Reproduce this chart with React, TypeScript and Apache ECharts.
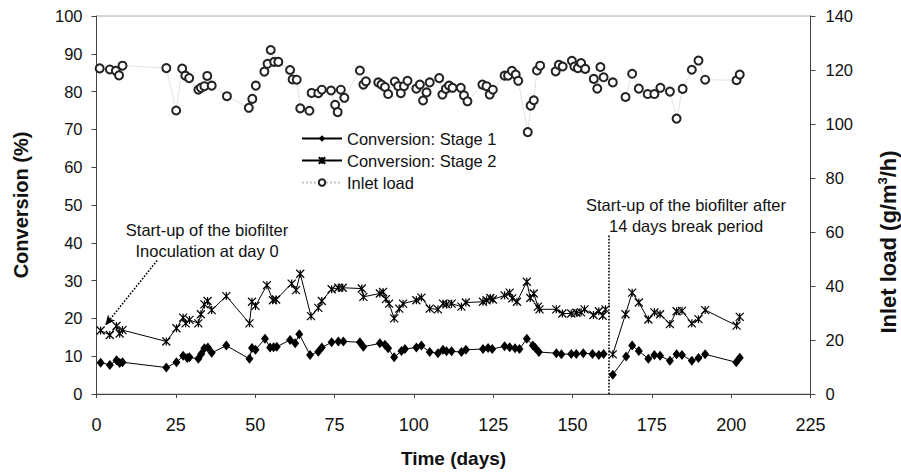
import React, { useEffect, useRef } from 'react';
import * as echarts from 'echarts';

const stage1Days = [1.3,4.2,6.3,7.3,8.2,22,25.2,27.3,28.6,29.3,32.1,33,34,35.1,36.3,40.9,48.2,49,50.1,53.1,54.7,55.8,56.8,61,62.6,63.9,67.3,69.9,71,74.1,76.2,77.8,83,84.1,89.3,90.9,91.9,93.8,96.1,97.2,100.8,102.4,105,107.6,109.2,110.3,111.9,115,116.4,121.8,123.4,124.7,128.6,130.2,131.9,133.3,135.6,137.5,138.3,139.4,144.9,146.5,149.6,151.2,153.4,156.3,158.3,159.8,161.4,162.7,166.9,168.8,170.9,173.9,175.8,177.6,180.7,182.8,184.5,187.6,189.7,191.8,201.6,202.7];
const stage1Values = [8.3,7.7,8.9,8.2,8.4,7.0,8.4,10.1,9.5,9.7,9.3,10.6,12.1,12.3,10.9,12.8,9.3,12.2,11.7,14.6,12.3,12.4,12.5,14.3,13.4,15.8,10.3,11.2,12.3,13.7,13.9,13.9,13.7,12.5,13.4,13,12.1,9.7,11.4,11.9,12.3,12.8,11.1,10.8,11.7,11.3,11.3,11.1,11.7,11.9,12.2,11.9,12.6,12.4,12.1,11.9,14.6,12.8,12.2,11.1,10.8,10.5,10.6,10.6,10.8,10.6,10.3,10.6,null,5.1,9.9,12.8,11.4,9.3,10.3,10.1,8.8,10.5,10.3,8.8,9.5,10.5,8.4,9.6];

const stage2Days = [1.3,4.2,6.3,7.3,8.2,22,25.2,27.3,28.1,29.3,32.1,32.9,34,35,36.3,40.9,48.2,49,50.1,53.7,55.6,56.6,61.5,62.9,64.2,67.6,69.9,71,74.1,76.2,77.6,83.6,84.1,89.3,90.3,91.2,92.2,93.8,95.4,96.6,100.8,102.4,105,107.6,109.2,110.3,111.9,115,116.4,121.8,122.9,124.1,124.9,128.6,130.2,131,132.5,135.6,136.7,137.8,139.1,139.6,144.9,146.8,149.6,151.2,152.7,153.8,156.6,158.3,159.5,160.4,161.4,162.7,166.7,168.8,170.9,173.9,175.8,177.6,180.7,182.8,184.5,187.6,189.7,191.8,201.7,202.7];
const stage2Values = [16.8,15.6,18.0,16.0,16.9,13.9,17.4,20.2,18.7,19.6,18.7,21.1,23.7,24.6,22.2,25.9,18.7,24.4,23.3,28.8,24.8,25,29.2,27.5,31.8,20.6,22.8,24.6,27.7,28.1,28.1,27.9,25.7,26.6,27,25.1,23.9,20,22.6,23.9,24.8,25.5,22.6,22.4,23.9,23.7,23.9,23.1,24.2,24.4,24.8,25.4,25,26.1,26.8,25.3,24.4,29.7,25.4,26.6,23.1,22.4,22.4,21.3,21.3,21.5,21.6,22.4,20.9,21.9,20.7,22.4,null,10.5,21.1,26.8,24.2,19.7,21.6,21.1,18.5,21.9,22,18.7,19.8,22.2,18.1,20.4];

const loadDays = [1.0,4.2,6.1,7.1,8.2,22,25.1,27.0,28.0,29.2,32.1,32.9,34.0,34.9,36.3,41.1,48.0,49.1,50.2,52.9,53.9,54.9,56.0,57.3,61.0,61.8,63.1,64.2,67.1,67.8,69.9,71.0,73.9,75.2,76.0,77.0,78.1,83.0,84.1,84.9,88.8,89.8,90.9,91.9,94.0,95.1,95.9,96.9,98.0,100.8,101.9,102.9,104.0,105.0,108.0,109.0,110.1,111.1,112.2,114.8,115.8,116.9,121.6,122.9,123.9,124.9,128.6,129.7,130.9,132.1,132.9,135.9,136.8,137.8,138.8,139.8,144.7,145.7,146.9,149.8,150.6,151.7,152.7,154.0,156.7,157.8,158.8,159.8,162.7,166.7,168.8,170.9,173.7,175.8,177.7,180.7,182.8,184.7,187.6,189.7,191.8,201.7,202.7];
const loadValues = [120.6,120.2,119.7,118.0,121.6,120.7,105.0,120.5,117.9,117.0,112.7,113.4,114.0,117.8,114.2,110.3,106.0,109.3,114.2,119.4,122.3,127.4,123.0,123.0,120.0,116.5,116.4,105.8,104.9,111.5,111.4,112.7,112.4,107.1,104.4,112.7,109.7,119.8,114.6,115.8,115.4,114.6,113.7,111.1,115.7,114.0,111.4,114.0,116.0,113.1,114.6,108.7,111.7,115.4,117.0,110.9,113.0,114.2,113.4,113.4,110.6,108.4,114.6,114.0,110.9,112.7,117.9,117.9,119.7,118.3,116.0,97.0,106.8,108.8,119.8,121.6,119.5,121.9,121.3,123.4,121.3,120.7,122.6,120.4,116.7,113.1,121.1,117.3,115.4,110.0,118.6,113.1,111.1,111.1,113.4,112.0,102.0,113.0,120.1,123.5,116.4,116.2,118.3];

const xTicks = { min: 0, max: 225, interval: 25 };
const leftTicks = { min: 0, max: 100, interval: 10 };
const rightTicks = { min: 0, max: 140, interval: 20 };

const breakDay = 161.4;
const breakLineTop = 42;
const arrowFrom = [19.1, 35.3];
const arrowTo = [2.8, 18.2];

const seriesNames = ['Conversion: Stage 1', 'Conversion: Stage 2', 'Inlet load'];
const note1 = ['Start-up of the biofilter', 'Inoculation at day 0'];
const note2 = ['Start-up of the biofilter after', '14 days break period'];

const FONT = '"Liberation Sans", Arial, sans-serif';
const STAR = 'path://M0,0L10,10M10,0L0,10M5,0L5,10';

function pairs(days: number[], vals: (number | null)[]) {
  return days.map((d, i) => [d, vals[i] === null ? '-' : vals[i]]);
}

export default function App() {
  const ref = useRef<HTMLDivElement>(null);
  useEffect(() => {
    document.body.style.margin = '0';
    const chart = echarts.init(ref.current!, null, { renderer: 'svg' });
    const axisLine = { show: true, lineStyle: { color: '#444', width: 1 } };
    const tickLabel = { color: '#111', fontFamily: FONT, fontSize: 16.5 };
    chart.setOption({
      animation: false,
      backgroundColor: '#fff',
      grid: { left: 96.5, right: 90.5, top: 16, bottom: 77, show: true, borderColor: '#aaa', borderWidth: 1 },
      legend: {
        orient: 'vertical',
        left: 296,
        top: 125,
        itemWidth: 40,
        itemHeight: 8,
        itemGap: 5,
        data: seriesNames,
        textStyle: { color: '#111', fontFamily: FONT, fontSize: 16.5 },
      },
      xAxis: {
        type: 'value',
        ...xTicks,
        axisLine,
        axisTick: { show: true, length: 4, lineStyle: { color: '#444' } },
        axisLabel: { ...tickLabel, fontSize: 18, margin: 22 },
        splitLine: { show: false },
        name: 'Time (days)',
        nameLocation: 'middle',
        nameGap: 55,
        nameTextStyle: { color: '#111', fontFamily: FONT, fontSize: 19, fontWeight: 'bold' },
      },
      yAxis: [
        {
          type: 'value',
          position: 'left',
          ...leftTicks,
          axisLine,
          axisTick: { show: true, length: 5, lineStyle: { color: '#444' } },
          axisLabel: { ...tickLabel, margin: 14 },
          splitLine: { show: false },
          name: 'Conversion (%)',
          nameLocation: 'middle',
          nameRotate: 90,
          nameGap: 66,
          nameTextStyle: { color: '#111', fontFamily: FONT, fontSize: 20, fontWeight: 'bold' },
        },
        {
          type: 'value',
          position: 'right',
          ...rightTicks,
          axisLine,
          axisTick: { show: true, length: 5, lineStyle: { color: '#444' } },
          axisLabel: { ...tickLabel, margin: 15 },
          splitLine: { show: false },
        },
      ],
      series: [
        {
          name: seriesNames[0],
          type: 'line',
          yAxisIndex: 0,
          data: pairs(stage1Days, stage1Values),
          connectNulls: false,
          symbol: 'diamond',
          symbolSize: [8, 10],
          itemStyle: { color: '#000' },
          lineStyle: { color: '#000', width: 1 },
          z: 3,
        },
        {
          name: seriesNames[1],
          type: 'line',
          yAxisIndex: 0,
          data: pairs(stage2Days, stage2Values),
          connectNulls: false,
          symbol: STAR,
          symbolSize: 8,
          itemStyle: { color: '#000', borderColor: '#000', borderWidth: 1.2 },
          lineStyle: { color: '#000', width: 1 },
          z: 3,
          markLine: {
            silent: true,
            animation: false,
            label: { show: false },
            data: [
              [
                { coord: [breakDay, 0], symbol: 'none', lineStyle: { type: 'dotted', color: '#000', width: 1.6 } },
                { coord: [breakDay, breakLineTop], symbol: 'none' },
              ],
              [
                { coord: arrowFrom, symbol: 'none', lineStyle: { type: 'dotted', color: '#000', width: 1.6 } },
                { coord: arrowTo, symbol: 'arrow', symbolSize: [7, 10] },
              ],
            ],
          },
        },
        {
          name: seriesNames[2],
          type: 'line',
          yAxisIndex: 1,
          data: pairs(loadDays, loadValues),
          symbol: 'emptyCircle',
          symbolSize: 8,
          itemStyle: { color: '#222', borderWidth: 1 },
          lineStyle: { color: '#c4c4c4', width: 1, type: 'dotted' },
          z: 2,
        },
      ],
      graphic: [
        { type: 'text', x: 207, y: 219, style: { text: note1.join('\n'), font: `16.5px ${FONT}`, fill: '#111', align: 'center', lineHeight: 21 } },
        { type: 'text', x: 686, y: 194, style: { text: note2.join('\n'), font: `16.5px ${FONT}`, fill: '#111', align: 'center', lineHeight: 21 } },
        {
          type: 'text', x: 888, y: 242, rotation: Math.PI / 2,
          style: {
            text: 'Inlet load (g/m{sup|3}/h)',
            fontFamily: FONT, fontSize: 22, fontWeight: 'bold', fill: '#111',
            align: 'center', verticalAlign: 'middle',
            rich: { sup: { fontSize: 13, fontWeight: 'bold', fontFamily: FONT, fill: '#111', verticalAlign: 'top', padding: [0, 0, 11, 0] } },
          },
        },
      ],
    });
    return () => chart.dispose();
  }, []);
  return <div ref={ref} style={{ width: 901, height: 473 }} />;
}
